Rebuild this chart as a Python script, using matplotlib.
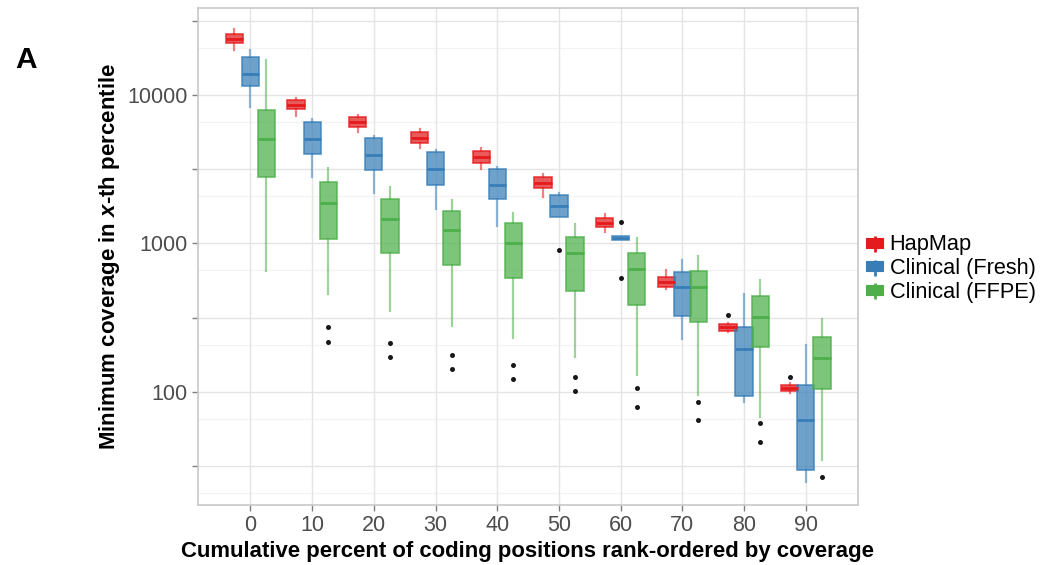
import numpy as np
import matplotlib
matplotlib.use("Agg")
import matplotlib.pyplot as plt
from matplotlib.patches import Patch
from matplotlib.lines import Line2D
from matplotlib.legend_handler import HandlerTuple

plt.rcParams['font.family'] = ['Liberation Sans', 'DejaVu Sans']
plt.rcParams['mathtext.fontset'] = 'custom'
plt.rcParams['mathtext.bfit'] = 'Liberation Sans:bold:italic'
plt.rcParams['mathtext.it'] = 'Liberation Sans:italic'
plt.rcParams['mathtext.bf'] = 'Liberation Sans:bold'
plt.rcParams['mathtext.rm'] = 'Liberation Sans'

categories = ["0", "10", "20", "30", "40", "50", "60", "70", "80", "90"]
series_names = ["HapMap", "Clinical (Fresh)", "Clinical (FFPE)"]
series_colors = ["#E41A1C", "#377EB8", "#4DAF4A"]

# HapMap
hap_whislo = [20100, 7220, 5610, 4380, 3155, 2065, 1188, 490, 252, 98]
hap_q1     = [22500, 8020, 6110, 4720, 3500, 2350, 1283, 506, 258, 101]
hap_med    = [23930, 8520, 6580, 5100, 3800, 2540, 1380, 552, 272, 107]
hap_q3     = [25650, 9250, 7070, 5660, 4210, 2810, 1476, 597, 286, 112]
hap_whishi = [27700, 9600, 7330, 5880, 4380, 2940, 1578, 661, 292, 114]
hap_fliers = [[], [], [], [], [], [], [], [], [330], [126]]

# Clinical (Fresh)
fresh_whislo = [8260, 2810, 2200, 1700, 1310, 1500, 1060, 226, 85.9, 24.8]
fresh_q1     = [11500, 4000, 3127, 2475, 1990, 1500, 1060, 326, 93.8, 29.7]
fresh_med    = [13920, 5020, 3944, 3170, 2475, 1786, 1095, 506, 196, 64.6]
fresh_q3     = [17950, 6550, 5100, 4110, 3170, 2118, 1130, 644, 272, 112]
fresh_whishi = [20100, 6890, 5290, 4260, 3290, 2200, 1130, 773, 454, 207]
fresh_fliers = [[], [], [], [], [], [908], [1400, 582], [], [], []]

# Clinical (FFPE)
ffpe_whislo = [655, 456, 352, 277, 229, 173, 130, 95.5, 68, 35]
ffpe_q1     = [2786, 1076, 857, 714, 587, 480, 385, 294, 201, 104.5]
ffpe_med    = [5020, 1880, 1460, 1231, 1012, 857, 670, 506, 321, 168]
ffpe_q3     = [7920, 2580, 2000, 1660, 1365, 1110, 865, 651, 443, 233]
ffpe_whishi = [17200, 3240, 2410, 1960, 1595, 1352, 1081, 826, 566, 312]
ffpe_fliers = [[], [272, 217], [212, 171], [176, 142], [152, 122], [126, 101],
               [107, 79.5], [85, 64.6], [62, 45.7], [26.8]]

series = [
    (hap_whislo, hap_q1, hap_med, hap_q3, hap_whishi, hap_fliers),
    (fresh_whislo, fresh_q1, fresh_med, fresh_q3, fresh_whishi, fresh_fliers),
    (ffpe_whislo, ffpe_q1, ffpe_med, ffpe_q3, ffpe_whishi, ffpe_fliers),
]

fig = plt.figure(figsize=(10.42, 5.65), dpi=100)
ax = fig.add_axes([0.1897, 0.1062, 0.6334, 0.8796])
ax.set_yscale('log')

# gridlines (ggplot-like): majors at 10^k and 10^(k+.5), minors at linear midpoints
majors = [10 ** (k / 2) for k in range(2, 10)]
minors = [(majors[i] + majors[i + 1]) / 2 for i in range(len(majors) - 1)]
for v in minors:
    ax.axhline(v, color='#F3F3F3', lw=0.9, zorder=0)
for v in majors:
    ax.axhline(v, color='#E4E4E4', lw=1.0, zorder=0)
xpos = np.arange(len(categories))
for x in xpos:
    ax.axvline(x, color='#E4E4E4', lw=1.0, zorder=0)

dodge = 0.26
width = 0.28
for s, (wl, q1, md, q3, wh, fl) in enumerate(series):
    col = series_colors[s]
    stats = []
    for i in range(len(categories)):
        stats.append(dict(whislo=wl[i], q1=q1[i], med=md[i], q3=q3[i],
                          whishi=wh[i], fliers=fl[i]))
    pos = xpos + (s - 1) * dodge
    ax.bxp(stats, positions=pos, widths=width, patch_artist=True,
           showcaps=False, manage_ticks=False,
           boxprops=dict(facecolor=matplotlib.colors.to_rgba(col, 0.72),
                         edgecolor=matplotlib.colors.to_rgba(col, 0.8), lw=1.2),
           whiskerprops=dict(color=col, alpha=0.55, lw=1.6),
           medianprops=dict(color=col, lw=2.0),
           flierprops=dict(marker='o', markersize=2.6, markerfacecolor='black',
                           markeredgecolor='black', alpha=0.85, linestyle='none'),
           zorder=3)

ytick_vals = majors
ytick_labels = ["100" if abs(v - 100) < 1e-6 else "1000" if abs(v - 1000) < 1e-6
                else "10000" if abs(v - 10000) < 1e-6 else "" for v in ytick_vals]
ax.set_yticks(ytick_vals)
ax.set_yticklabels(ytick_labels)
ax.yaxis.set_minor_locator(matplotlib.ticker.NullLocator())
ax.set_xticks(xpos)
ax.set_xticklabels(categories)
ax.set_xlim(-0.855, 9.84)
ax.set_ylim(17.3, 38560)
ax.tick_params(axis='both', colors='#7F7F7F', length=4, width=1, labelsize=15.5,
               labelcolor='#4D4D4D', pad=3)

for sp in ax.spines.values():
    sp.set_color('#C8C8C8')
    sp.set_linewidth(1.2)

ax.set_xlabel("Cumulative percent of coding positions rank-ordered by coverage",
              fontsize=15.9, fontweight='bold', labelpad=4)
ax.set_ylabel(r"Minimum coverage in $\mathbfit{x}$-th percentile",
              fontsize=16, fontweight='bold', labelpad=4)

fig.text(15 / 1042, 1 - 68 / 565, "A", fontsize=21.5, fontweight='bold',
         ha='left', va='baseline')

handles = []
for col in series_colors:
    handles.append((Line2D([], [], marker='|', color=col, markersize=12,
                           markeredgewidth=2.0, linestyle='None'),
                    Patch(facecolor=col, edgecolor=col, lw=0.8)))
leg = fig.legend(handles, series_names, handler_map={tuple: HandlerTuple(ndivide=1)},
                 loc='center left', bbox_to_anchor=(866 / 1042, 1 - 268.5 / 565),
                 frameon=False, fontsize=15.7, handlelength=0.78, handleheight=0.33,
                 handletextpad=0.3, labelspacing=0.12, borderpad=0, borderaxespad=0)

fig.savefig("out.png", dpi=100)
